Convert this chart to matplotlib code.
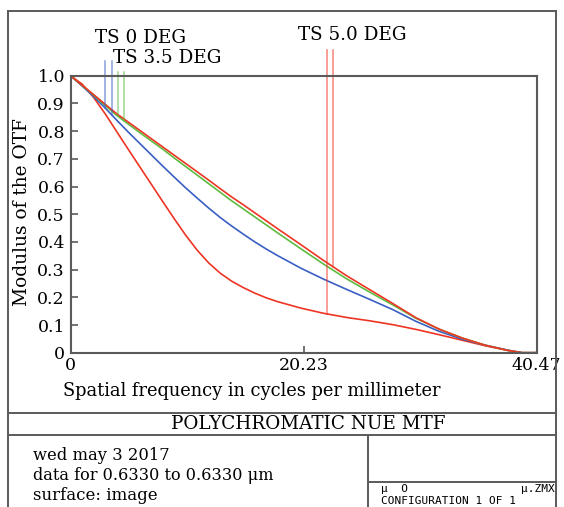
import numpy as np
import matplotlib
matplotlib.use("Agg")
import matplotlib.pyplot as plt
from matplotlib.lines import Line2D

# ── data ─────────────────────────────────────────────────────────
freq = [0, 1, 2, 3, 4, 5, 6, 7, 8, 9, 10, 11, 12, 13, 14, 15, 16, 17, 18,
        20, 22, 24, 26, 28, 30, 32, 34, 36, 38, 39.2, 40.47]

mtf_0deg = [1.0, 0.963, 0.925, 0.884, 0.840, 0.797, 0.756, 0.715, 0.674, 0.634,
            0.595, 0.558, 0.522, 0.488, 0.457, 0.428, 0.400, 0.374, 0.350,
            0.305, 0.265, 0.228, 0.192, 0.155, 0.113, 0.077, 0.049, 0.027, 0.009, 0.0, 0.0]

mtf_35deg = [1.0, 0.965, 0.930, 0.893, 0.857, 0.826, 0.795, 0.765, 0.735, 0.703,
             0.672, 0.641, 0.610, 0.579, 0.548, 0.519, 0.490, 0.461, 0.432,
             0.375, 0.319, 0.266, 0.218, 0.172, 0.124, 0.085, 0.053, 0.027, 0.008, 0.0, 0.0]

mtf_5deg_t = [1.0, 0.970, 0.922, 0.863, 0.799, 0.735, 0.672, 0.609, 0.546, 0.484,
              0.424, 0.370, 0.324, 0.287, 0.258, 0.235, 0.215, 0.198, 0.184,
              0.161, 0.142, 0.127, 0.115, 0.101, 0.084, 0.065, 0.045, 0.025, 0.008, 0.0, 0.0]

mtf_5deg_s = [1.0, 0.966, 0.932, 0.897, 0.863, 0.833, 0.803, 0.773, 0.743, 0.713,
              0.683, 0.653, 0.623, 0.592, 0.562, 0.534, 0.505, 0.476, 0.447,
              0.390, 0.332, 0.277, 0.227, 0.177, 0.126, 0.085, 0.053, 0.027, 0.008, 0.0, 0.0]

# field marker lines: x position and top value (they drop to their curve)
marker_x = [3.03, 3.57, 4.11, 4.63, 22.27, 22.79]
marker_top = [1.053, 1.053, 1.013, 1.013, 1.093, 1.093]

x_ticks = [0, 20.235, 40.47]
x_ticklabels = ["0", "20.23", "40.47"]
y_ticks = [0, 0.1, 0.2, 0.3, 0.4, 0.5, 0.6, 0.7, 0.8, 0.9, 1.0]
y_ticklabels = ["0", "0.1", "0.2", "0.3", "0.4", "0.5", "0.6", "0.7", "0.8", "0.9", "1.0"]

BLUE = "#3a5fc4"
GREEN = "#5dbb3f"
RED = "#ee3524"
FRAME = "#5a5a5a"

W, H = 564, 507
plt.rcParams["font.family"] = ["DejaVu Serif"]


def P(x, y):
    return x / W, 1 - y / H


fig = plt.figure(figsize=(W / 100, H / 100), dpi=100)

ax_l, ax_r, ax_t, ax_b = 70.5, 536.7, 75.7, 352.7
ax = fig.add_axes([ax_l / W, 1 - ax_b / H, (ax_r - ax_l) / W, (ax_b - ax_t) / H])

ax.plot(freq, mtf_5deg_t, color=RED, lw=1.2)
ax.plot(freq, mtf_0deg, color=BLUE, lw=1.2)
ax.plot(freq, mtf_35deg, color=GREEN, lw=1.2)
ax.plot(freq, mtf_5deg_s, color=RED, lw=1.2)

series = [mtf_0deg, mtf_0deg, mtf_35deg, mtf_35deg, mtf_5deg_t, mtf_5deg_s]
mcolors = [BLUE, BLUE, GREEN, GREEN, RED, RED]
for mx, top, ser, c in zip(marker_x, marker_top, series, mcolors):
    bottom = np.interp(mx, freq, ser)
    ax.plot([mx, mx], [bottom, top], color=c, lw=1.1, alpha=0.6, clip_on=False)

ax.set_xlim(0, 40.47)
ax.set_ylim(0, 1.0)
ax.set_xticks(x_ticks)
ax.set_xticklabels(x_ticklabels)
ax.set_yticks(y_ticks)
ax.set_yticklabels(y_ticklabels)
ax.tick_params(direction="in", length=5, width=1.2, color=FRAME, labelsize=12.5)
ax.tick_params(axis="x", pad=3)
ax.tick_params(axis="y", pad=4)
for s in ax.spines.values():
    s.set_color(FRAME)
    s.set_linewidth(1.5)

# axis titles
fig.text(*P(22, 212), "Modulus of the OTF", rotation=90, ha="center", va="center",
         fontsize=13.4)
fig.text(*P(63, 391), "Spatial frequency in cycles per millimeter", ha="left",
         va="center", fontsize=12.9)

# field labels
fig.text(*P(95, 38), "TS 0 DEG", ha="left", va="center", fontsize=13.2)
fig.text(*P(113, 58), "TS 3.5 DEG", ha="left", va="center", fontsize=13.2)
fig.text(*P(298, 35), "TS 5.0 DEG", ha="left", va="center", fontsize=13.2)

# outer frame and info block
frame_lines = [
    ([8, 8], [11, 507]),
    ([8, 556], [11, 11]),
    ([556, 556], [11, 507]),
    ([8, 556], [413, 413]),
    ([8, 556], [435, 435]),
    ([368, 368], [435, 507]),
    ([368, 556], [482, 482]),
]
for xs, ys in frame_lines:
    fig.add_artist(Line2D([x / W for x in xs], [1 - y / H for y in ys],
                          color=FRAME, lw=1.4))

fig.text(*P(308, 424), "POLYCHROMATIC NUE MTF", ha="center", va="center", fontsize=13.2)
fig.text(*P(33, 455), "wed may 3 2017", ha="left", va="center", fontsize=11.8)
fig.text(*P(33, 475), "data for 0.6330 to 0.6330 \u03bcm", ha="left", va="center",
         fontsize=11.6)
fig.text(*P(33, 495), "surface: image", ha="left", va="center", fontsize=12)

fig.text(*P(381, 488.5), "\u03bc  O", ha="left", va="center", fontsize=8,
         family="DejaVu Sans Mono")
fig.text(*P(555, 488.5), "\u03bc.ZMX", ha="right", va="center", fontsize=8,
         family="DejaVu Sans Mono")
fig.text(*P(381, 500.5), "CONFIGURATION 1 OF 1", ha="left", va="center", fontsize=8,
         family="DejaVu Sans Mono")

fig.savefig("out.png", dpi=100)
